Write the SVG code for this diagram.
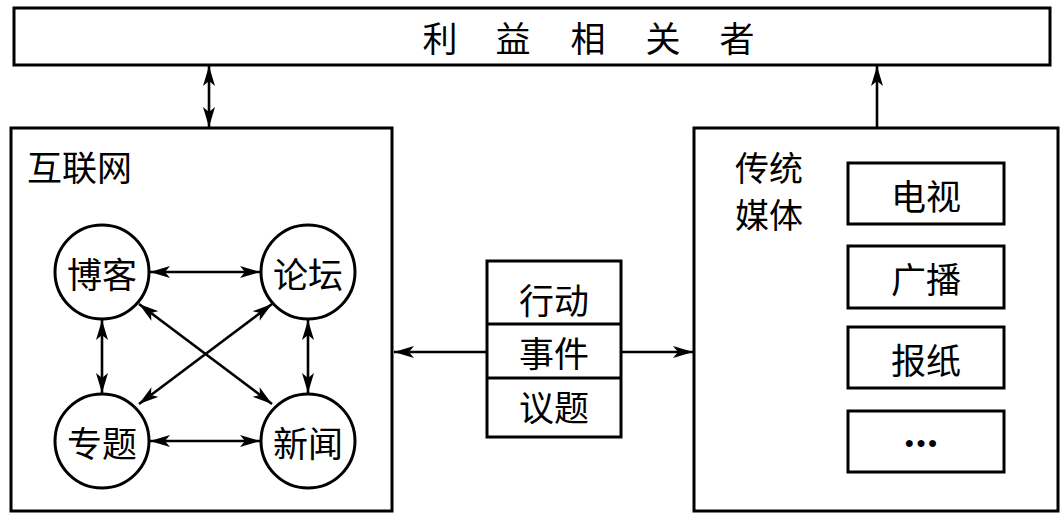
<svg xmlns="http://www.w3.org/2000/svg" width="1063" height="519" viewBox="0 0 1063 519">
<style>
.box{fill:#fff;stroke:#000;stroke-width:3}
.c{fill:#fff;stroke:#000;stroke-width:3}
.ln{stroke:#000;stroke-width:2.6;fill:none}
.t{font-family:"Noto Sans CJK SC","Noto Sans CJK TC",sans-serif;font-size:35px;fill:#000}
.m{text-anchor:middle;dominant-baseline:central}
</style>
<defs>
<marker id="ah" viewBox="0 0 20 12" refX="20" refY="6" markerWidth="20" markerHeight="13" markerUnits="userSpaceOnUse" orient="auto-start-reverse">
<path d="M0,0 L20,6 L0,12 L5,6 Z" fill="#000"/>
</marker>
</defs>
<rect width="1063" height="519" fill="#fff"/>
<g id="stakeholders">
<rect class="box" x="14" y="8" width="1036" height="57"/>
<text class="t m" x="440 513 588 663 737" y="36">利益相关者</text>
</g>
<g id="internet">
<rect class="box" x="11" y="128" width="381" height="383"/>
<text class="t" x="27" y="181">互联网</text>
</g>
<g id="blog"><circle class="c" cx="102" cy="272" r="47"/><text class="t m" x="102" y="272">博客</text></g>
<g id="forum"><circle class="c" cx="308" cy="272" r="47"/><text class="t m" x="308" y="272">论坛</text></g>
<g id="topic"><circle class="c" cx="102" cy="441" r="47"/><text class="t m" x="102" y="441">专题</text></g>
<g id="news"><circle class="c" cx="308" cy="441" r="47"/><text class="t m" x="308" y="441">新闻</text></g>
<g id="middle">
<rect class="box" x="487" y="261" width="134" height="176"/>
<line class="ln" x1="487" y1="324" x2="621" y2="324" style="stroke-width:3"/>
<line class="ln" x1="487" y1="378" x2="621" y2="378" style="stroke-width:3"/>
<text class="t m" x="554" y="298">行动</text>
<text class="t m" x="554" y="351">事件</text>
<text class="t m" x="554" y="405">议题</text>
</g>
<g id="traditional">
<rect class="box" x="694" y="128" width="364" height="383"/>
<text class="t" x="735" y="181" style="font-size:34px">传统</text>
<text class="t" x="735" y="228" style="font-size:34px">媒体</text>
</g>
<g id="tv"><rect class="box" x="848" y="163" width="156" height="61"/><text class="t m" x="926" y="194">电视</text></g>
<g id="radio"><rect class="box" x="848" y="246" width="156" height="62"/><text class="t m" x="926" y="277">广播</text></g>
<g id="paper"><rect class="box" x="848" y="327" width="156" height="61"/><text class="t m" x="926" y="358">报纸</text></g>
<g id="more"><rect class="box" x="848" y="411" width="156" height="61"/><text class="m" x="922" y="442" style="font-family:'Liberation Sans',sans-serif;font-size:16px;letter-spacing:2px;fill:#000">●●●</text></g>
<g id="connectors">
<line class="ln" x1="209" y1="66" x2="209" y2="127" marker-start="url(#ah)" marker-end="url(#ah)"/>
<line class="ln" x1="877" y1="127" x2="877" y2="66" marker-end="url(#ah)"/>
<line class="ln" x1="150" y1="272" x2="260" y2="272" marker-start="url(#ah)" marker-end="url(#ah)"/>
<line class="ln" x1="150" y1="441" x2="260" y2="441" marker-start="url(#ah)" marker-end="url(#ah)"/>
<line class="ln" x1="102" y1="320" x2="102" y2="393" marker-start="url(#ah)" marker-end="url(#ah)"/>
<line class="ln" x1="308" y1="320" x2="308" y2="393" marker-start="url(#ah)" marker-end="url(#ah)"/>
<line class="ln" x1="139" y1="304" x2="272" y2="404" marker-start="url(#ah)" marker-end="url(#ah)"/>
<line class="ln" x1="272" y1="304" x2="139" y2="404" marker-start="url(#ah)" marker-end="url(#ah)"/>
<line class="ln" x1="487" y1="352" x2="394" y2="352" marker-end="url(#ah)"/>
<line class="ln" x1="621" y1="352" x2="693" y2="352" marker-end="url(#ah)"/>
</g>
</svg>
